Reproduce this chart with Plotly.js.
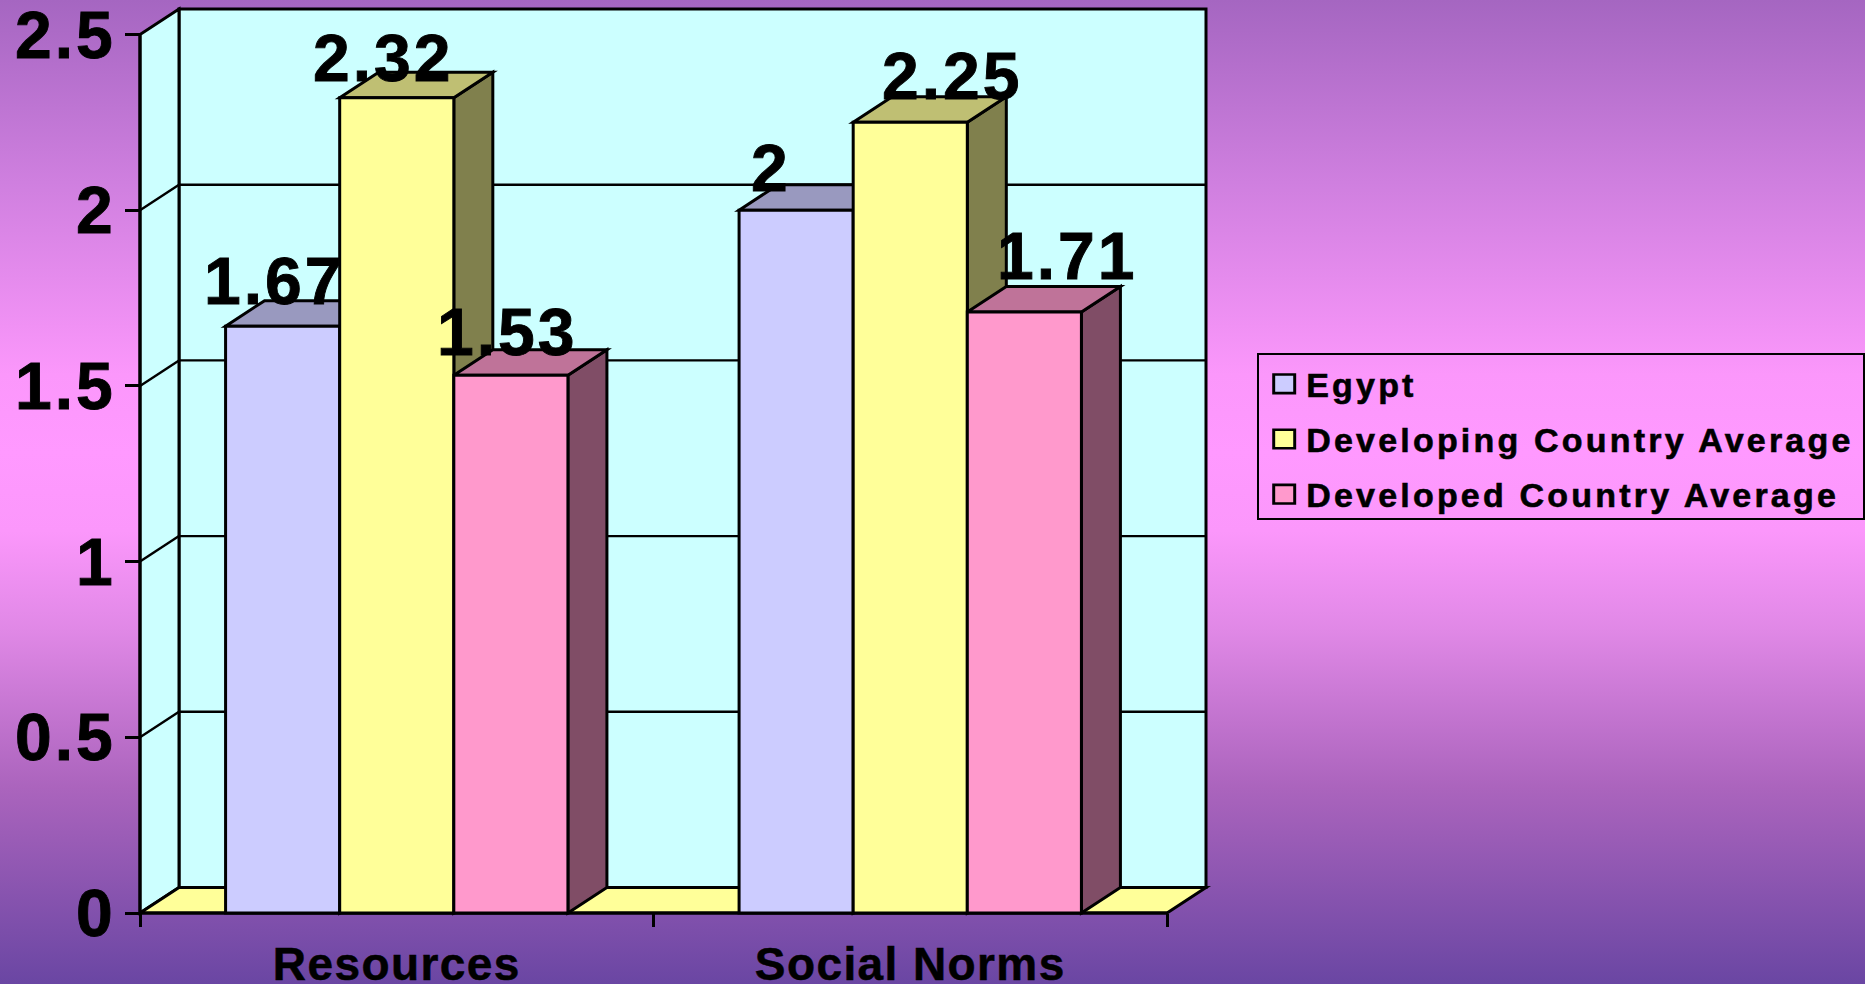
<!DOCTYPE html>
<html>
<head>
<meta charset="utf-8">
<script src="https://cdn.plot.ly/plotly-3.0.1.min.js"></script>
<style>
html,body{margin:0;padding:0;width:1865px;height:984px;overflow:hidden;
background:linear-gradient(180deg,#a566c1 0%,#cf7fdf 18.5%,#fb97fb 38%,#ff99ff 46%,#fb97fb 54%,#e088e6 64%,#ab64bd 80%,#6a46a3 100%);}
#chart{width:1865px;height:984px;}
.legendtext{letter-spacing:3.2px;stroke:#000;stroke-width:.6px;}
.legend .bg{width:606px;height:165px;}
.annotation-text,.ytick text{letter-spacing:3px;stroke:#000;stroke-width:.9px;}
.xtick text{letter-spacing:1.4px;stroke:#000;stroke-width:.5px;}
.legend .legendpoints path{transform:translate(25px,0) scale(1.75,1.55);stroke-width:1.7px !important;}
</style>
</head>
<body>
<div id="chart"></div>
<script>
// ---- data ----
const categories = ['Resources', 'Social Norms'];
const egypt = [1.67, 2];
const developing = [2.32, 2.25];
const developed = [1.53, 1.71];
const seriesNames = ['Egypt', 'Developing Country Average', 'Developed Country Average'];
const yTicks = [0, 0.5, 1, 1.5, 2, 2.5];

// ---- style ----
const frontColors = ['#ccccff', '#ffff99', '#ff99cc'];
const topColors = ['#9999bf', '#bfbf73', '#bf7399'];
const sideColors = ['#666680', '#80804d', '#804d66'];
const wallColor = '#ccffff', floorColor = '#ffff99';
const font = 'Liberation Sans, Arial, sans-serif';
const LW = 3, GW = 2.4;
const labelShift = [[[-9,24],[-14,19],[-4,22]], [[-25,21],[42,25],[43,35]]];

// frame geometry (pixels)
const X0 = 140, Y0 = 913.3, XU = 513.5, YU = 351.4, PAD = 6;
const dx = 39 / XU, dy = 25.5 / YU;       // oblique depth in axis units
const ymaxFront = 2.5, nCat = categories.length;
const L = X0 - PAD, B = Y0 + PAD, R = X0 + (nCat + dx) * XU + PAD, T = Y0 - (ymaxFront + dy) * YU - PAD;
const W = R - L, H = B - T, FW = 1865, FH = 984;
const bargap = 1 / 3, bw = (1 - bargap) / 3;
const series = [egypt, developing, developed];

const poly = (pts, fill, layer) => ({
  type: 'path', xref: 'x', yref: 'y', layer: layer || 'between',
  path: 'M' + pts.map(p => p[0] + ',' + p[1]).join('L') + 'Z',
  fillcolor: fill, line: {color: '#000', width: LW}
});
const seg = (a, b, w) => ({
  type: 'line', xref: 'x', yref: 'y', layer: 'between',
  x0: a[0], y0: a[1], x1: b[0], y1: b[1], line: {color: '#000', width: w}
});

const shapes = [];
// back wall, left wall, floor
shapes.push(poly([[dx,dy],[nCat+dx,dy],[nCat+dx,ymaxFront+dy],[dx,ymaxFront+dy]], wallColor));
shapes.push(poly([[0,0],[dx,dy],[dx,ymaxFront+dy],[0,ymaxFront]], wallColor));
shapes.push(poly([[0,0],[nCat,0],[nCat+dx,dy],[dx,dy]], floorColor));
// gridlines on walls
yTicks.filter(v => v > 0 && v < ymaxFront).forEach(v => {
  shapes.push(seg([0,v],[dx,v+dy], GW));
  shapes.push(seg([dx,v+dy],[nCat+dx,v+dy], GW));
});
// bar tops and sides, back to front
series.forEach((vals, s) => {
  vals.forEach((v, c) => {
    const x0 = c + 0.5 + (s - 1.5) * bw, x1 = x0 + bw;
    shapes.push(poly([[x1,0],[x1+dx,dy],[x1+dx,v+dy],[x1,v]], sideColors[s]));
    shapes.push(poly([[x0,v],[x1,v],[x1+dx,v+dy],[x0+dx,v+dy]], topColors[s]));
  });
});
// front axis lines
shapes.push(seg([0,0],[0,ymaxFront], LW));
shapes.push(seg([0,0],[nCat,0], LW));

const catPos = categories.map((_, i) => i + 0.5);
const traces = series.map((vals, s) => ({
  type: 'bar', name: seriesNames[s], x: catPos, y: vals,
  legendgroup: 'g' + s,
  marker: {color: frontColors[s], line: {color: '#000', width: LW}},
  hoverinfo: 'x+y'
}));

const annotations = [];
series.forEach((vals, s) => vals.forEach((v, c) => {
  annotations.push({
    x: c + 0.5 + (s - 1) * bw, y: v, text: String(v), showarrow: false,
    xanchor: 'center', yanchor: 'bottom',
    xshift: labelShift[c][s][0], yshift: labelShift[c][s][1] - 18,
    font: {family: font, size: 66, color: '#000', weight: 700}
  });
}));

const layout = {
  width: FW, height: FH,
  margin: {l: L, r: FW - R, t: T, b: FH - B, autoexpand: false},
  paper_bgcolor: 'rgba(0,0,0,0)', plot_bgcolor: 'rgba(0,0,0,0)',
  barmode: 'group', bargap: bargap, bargroupgap: 0,
  xaxis: {
    type: 'linear', range: [-PAD / XU, nCat + dx + PAD / XU], fixedrange: true,
    anchor: 'free', position: PAD / H, showgrid: false, zeroline: false, showline: false,
    ticks: '', tickmode: 'array', tickvals: catPos, ticktext: categories,
    tickfont: {family: font, size: 46, color: '#000', weight: 700},
    ticklabelstandoff: 20, ticklabeloverflow: 'allow',
    minor: {ticks: 'outside', ticklen: 13, tickwidth: LW, tickcolor: '#000', showgrid: false,
            tickvals: categories.map((_, i) => i).concat([nCat])}
  },
  yaxis: {
    type: 'linear', range: [-PAD / YU, ymaxFront + dy + PAD / YU], fixedrange: true,
    anchor: 'free', position: PAD / W, showgrid: false, zeroline: false, showline: false,
    ticks: 'outside', ticklen: 15, tickwidth: LW, tickcolor: '#000',
    tickmode: 'array', tickvals: yTicks, ticktext: yTicks.map(String),
    tickfont: {family: font, size: 66, color: '#000', weight: 700},
    ticklabelstandoff: -4, ticklabeloverflow: 'allow'
  },
  shapes: shapes,
  annotations: annotations,
  showlegend: true,
  legend: {
    x: (1256.7 - L) / W, xanchor: 'left', y: (B - 353) / H, yanchor: 'top',
    traceorder: 'grouped', tracegroupgap: 8, itemwidth: 37, itemclick: false, itemdoubleclick: false,
    entrywidth: 556, entrywidthmode: 'pixels',
    bgcolor: 'rgba(0,0,0,0)', bordercolor: '#000', borderwidth: 2.5,
    font: {family: font, size: 34, color: '#000', weight: 700}
  }
};
Plotly.newPlot('chart', traces, layout, {displayModeBar: false});
</script>
</body>
</html>
